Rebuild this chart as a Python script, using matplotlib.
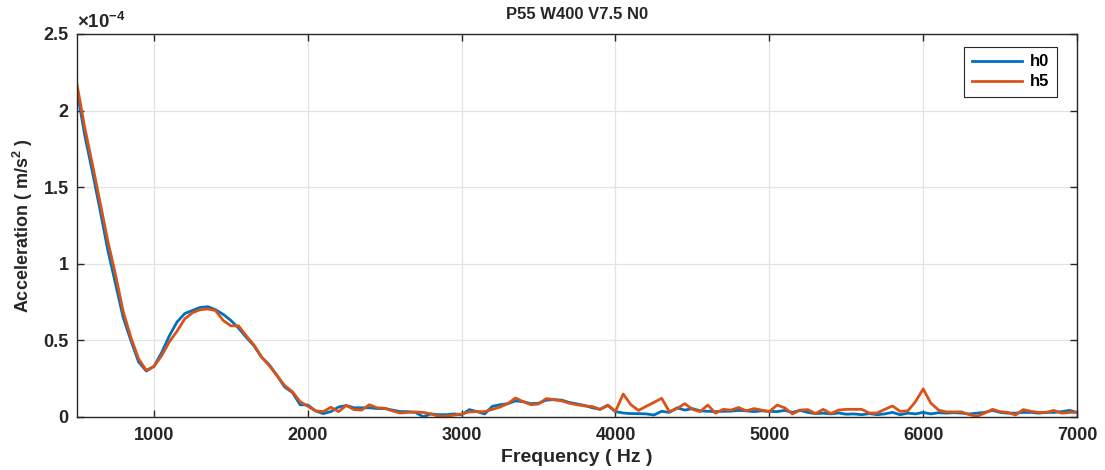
import numpy as np
from matplotlib import pyplot as plt
from matplotlib.ticker import FuncFormatter

plt.rcParams['font.family'] = ['Liberation Sans', 'DejaVu Sans']
plt.rcParams['font.weight'] = 'bold'
plt.rcParams['mathtext.fontset'] = 'custom'
plt.rcParams['mathtext.rm'] = 'Liberation Sans:bold'
plt.rcParams['mathtext.bf'] = 'Liberation Sans:bold'
plt.rcParams['mathtext.default'] = 'bf'

# spectrum sampled every 50 Hz, amplitudes in 1e-5 m/s^2
freq = np.arange(500, 7001, 50)

h0 = [21.3, 18.4, 16.0, 13.5, 10.9, 8.7, 6.5, 5.0, 3.6, 3.0,
      3.3, 4.2, 5.3, 6.2, 6.75, 6.95, 7.15, 7.2, 7.0, 6.7,
      6.3, 5.8, 5.2, 4.65, 3.9, 3.4, 2.7, 1.95, 1.6, 0.8,
      0.78, 0.4, 0.22, 0.35, 0.65, 0.75, 0.6, 0.6, 0.6, 0.55,
      0.55, 0.45, 0.35, 0.35, 0.3, 0.02, 0.2, 0.15, 0.15, 0.2,
      0.15, 0.48, 0.35, 0.2, 0.7, 0.8, 0.87, 1.05, 1.0, 0.87,
      0.9, 1.1, 1.13, 1.1, 0.95, 0.85, 0.75, 0.6, 0.5, 0.75,
      0.35, 0.26, 0.22, 0.22, 0.2, 0.13, 0.37, 0.3, 0.6, 0.45,
      0.55, 0.4, 0.37, 0.35, 0.37, 0.38, 0.43, 0.4, 0.35, 0.4,
      0.37, 0.35, 0.43, 0.3, 0.43, 0.3, 0.22, 0.25, 0.2, 0.26,
      0.18, 0.2, 0.15, 0.22, 0.15, 0.2, 0.3, 0.15, 0.25, 0.2,
      0.3, 0.2, 0.28, 0.25, 0.28, 0.25, 0.2, 0.25, 0.3, 0.43,
      0.3, 0.25, 0.25, 0.3, 0.3, 0.25, 0.3, 0.3, 0.35, 0.43,
      0.3]

h5 = [21.7, 18.9, 16.5, 14.0, 11.5, 9.3, 6.9, 5.2, 3.8, 3.05,
      3.3, 4.0, 4.9, 5.6, 6.4, 6.8, 7.0, 7.05, 6.95, 6.3,
      5.95, 5.95, 5.3, 4.7, 3.9, 3.35, 2.7, 2.05, 1.65, 1.0,
      0.7, 0.4, 0.35, 0.63, 0.35, 0.75, 0.48, 0.45, 0.8, 0.6,
      0.57, 0.4, 0.26, 0.3, 0.33, 0.3, 0.2, 0.05, 0.05, 0.12,
      0.2, 0.33, 0.35, 0.35, 0.5, 0.65, 0.87, 1.24, 1.0, 0.8,
      0.85, 1.2, 1.13, 1.05, 0.9, 0.8, 0.72, 0.68, 0.5, 0.78,
      0.37, 1.5, 0.8, 0.43, 0.7, 0.95, 1.22, 0.35, 0.55, 0.87,
      0.5, 0.35, 0.78, 0.25, 0.5, 0.45, 0.62, 0.4, 0.55, 0.45,
      0.35, 0.78, 0.6, 0.2, 0.45, 0.48, 0.22, 0.5, 0.22, 0.45,
      0.5, 0.5, 0.5, 0.26, 0.26, 0.5, 0.72, 0.37, 0.4, 1.0,
      1.83, 0.9, 0.45, 0.33, 0.33, 0.33, 0.15, 0.05, 0.25, 0.5,
      0.35, 0.3, 0.13, 0.48, 0.37, 0.3, 0.3, 0.43, 0.25, 0.3,
      0.3]

series = {'h0': (h0, '#0072BD'), 'h5': (h5, '#D95319')}

fig = plt.figure(figsize=(11.05, 4.70), dpi=100)
ax = fig.add_axes([0.0697, 0.1128, 0.905, 0.815])

for name, (vals, color) in series.items():
    ax.plot(freq, np.array(vals) * 1e-5, color=color, lw=2.0, label=name)

ax.set_xlim(500, 7000)
ax.set_ylim(0, 2.5e-4)
ax.set_xticks([1000, 2000, 3000, 4000, 5000, 6000, 7000])
ax.set_yticks([0, 0.5e-4, 1e-4, 1.5e-4, 2e-4, 2.5e-4])
ax.yaxis.set_major_formatter(FuncFormatter(lambda v, p: f'{v * 1e4:g}'))
ax.text(0.0, 1.004, r'$\times10^{-4}$', transform=ax.transAxes,
        fontsize=13.5, color='#262626', va='bottom', ha='left')

ax.grid(True, color='#e3e3e3', lw=0.9)
ax.set_axisbelow(True)
ax.tick_params(direction='in', top=True, right=True, length=5,
               labelsize=13, colors='#262626', width=1)
ax.tick_params(axis='x', pad=7)
ax.tick_params(axis='y', pad=6)
for sp in ax.spines.values():
    sp.set_color('#262626')
    sp.set_linewidth(1)

ax.set_title('P55 W400 V7.5 N0', fontsize=12, fontweight='bold',
             color='#262626', pad=11)
ax.set_xlabel('Frequency ( Hz )', fontsize=14, fontweight='bold',
              color='#262626', labelpad=4)
ax.set_ylabel('Acceleration ( m/s$^2$ )', fontsize=13, fontweight='bold',
              color='#262626', labelpad=6)

leg = ax.legend(loc='upper right', bbox_to_anchor=(0.98, 0.966),
                borderaxespad=0, fontsize=12, fancybox=False, framealpha=1,
                edgecolor='#262626', handlelength=3.0, borderpad=0.45,
                labelspacing=0.3, handletextpad=0.5)
leg.get_frame().set_linewidth(0.8)

fig.savefig('out.png', dpi=100)
